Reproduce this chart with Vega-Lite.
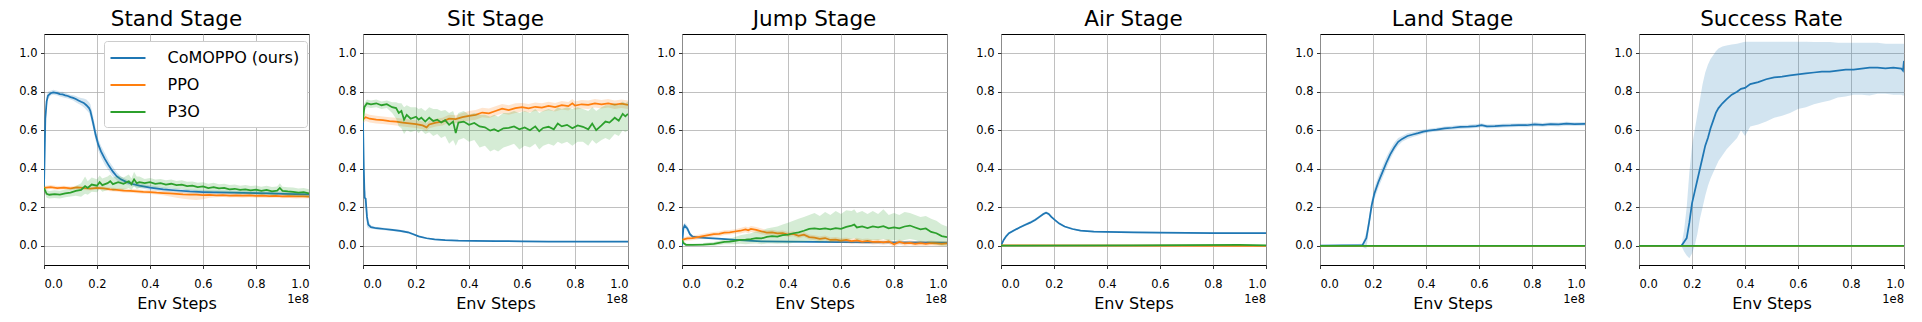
{
"$schema": "https://vega.github.io/schema/vega-lite/v6.json",
"padding": {"left": 18, "top": 9, "right": 5, "bottom": 5},
"datasets": {"d": [
{"p":"Stand Stage","s":"CoMOPPO (ours)","x":0,"y":0.30,"lo":0.28,"hi":0.32},
{"p":"Stand Stage","s":"CoMOPPO (ours)","x":0.5,"y":0.66,"lo":0.62,"hi":0.70},
{"p":"Stand Stage","s":"CoMOPPO (ours)","x":1,"y":0.75,"lo":0.72,"hi":0.78},
{"p":"Stand Stage","s":"CoMOPPO (ours)","x":1.5,"y":0.78,"lo":0.76,"hi":0.80},
{"p":"Stand Stage","s":"CoMOPPO (ours)","x":2.5,"y":0.792,"lo":0.78,"hi":0.805},
{"p":"Stand Stage","s":"CoMOPPO (ours)","x":3.5,"y":0.797,"lo":0.785,"hi":0.81},
{"p":"Stand Stage","s":"CoMOPPO (ours)","x":5,"y":0.793,"lo":0.78,"hi":0.805},
{"p":"Stand Stage","s":"CoMOPPO (ours)","x":6,"y":0.788,"lo":0.775,"hi":0.80},
{"p":"Stand Stage","s":"CoMOPPO (ours)","x":7,"y":0.786,"lo":0.772,"hi":0.80},
{"p":"Stand Stage","s":"CoMOPPO (ours)","x":8,"y":0.781,"lo":0.768,"hi":0.795},
{"p":"Stand Stage","s":"CoMOPPO (ours)","x":9,"y":0.778,"lo":0.765,"hi":0.79},
{"p":"Stand Stage","s":"CoMOPPO (ours)","x":10,"y":0.772,"lo":0.76,"hi":0.785},
{"p":"Stand Stage","s":"CoMOPPO (ours)","x":11,"y":0.768,"lo":0.754,"hi":0.782},
{"p":"Stand Stage","s":"CoMOPPO (ours)","x":12,"y":0.762,"lo":0.745,"hi":0.778},
{"p":"Stand Stage","s":"CoMOPPO (ours)","x":13,"y":0.755,"lo":0.738,"hi":0.772},
{"p":"Stand Stage","s":"CoMOPPO (ours)","x":14,"y":0.748,"lo":0.73,"hi":0.768},
{"p":"Stand Stage","s":"CoMOPPO (ours)","x":15,"y":0.742,"lo":0.72,"hi":0.765},
{"p":"Stand Stage","s":"CoMOPPO (ours)","x":16,"y":0.73,"lo":0.705,"hi":0.76},
{"p":"Stand Stage","s":"CoMOPPO (ours)","x":17,"y":0.715,"lo":0.69,"hi":0.745},
{"p":"Stand Stage","s":"CoMOPPO (ours)","x":17.5,"y":0.70,"lo":0.67,"hi":0.735},
{"p":"Stand Stage","s":"CoMOPPO (ours)","x":18.5,"y":0.64,"lo":0.61,"hi":0.675},
{"p":"Stand Stage","s":"CoMOPPO (ours)","x":19.5,"y":0.575,"lo":0.545,"hi":0.61},
{"p":"Stand Stage","s":"CoMOPPO (ours)","x":20.5,"y":0.525,"lo":0.495,"hi":0.555},
{"p":"Stand Stage","s":"CoMOPPO (ours)","x":21.5,"y":0.49,"lo":0.46,"hi":0.52},
{"p":"Stand Stage","s":"CoMOPPO (ours)","x":23,"y":0.45,"lo":0.42,"hi":0.48},
{"p":"Stand Stage","s":"CoMOPPO (ours)","x":24.5,"y":0.415,"lo":0.39,"hi":0.44},
{"p":"Stand Stage","s":"CoMOPPO (ours)","x":26,"y":0.385,"lo":0.36,"hi":0.41},
{"p":"Stand Stage","s":"CoMOPPO (ours)","x":27.5,"y":0.36,"lo":0.34,"hi":0.38},
{"p":"Stand Stage","s":"CoMOPPO (ours)","x":29,"y":0.345,"lo":0.33,"hi":0.36},
{"p":"Stand Stage","s":"CoMOPPO (ours)","x":31,"y":0.332,"lo":0.32,"hi":0.345},
{"p":"Stand Stage","s":"CoMOPPO (ours)","x":33,"y":0.322,"lo":0.31,"hi":0.335},
{"p":"Stand Stage","s":"CoMOPPO (ours)","x":36,"y":0.312,"lo":0.30,"hi":0.324},
{"p":"Stand Stage","s":"CoMOPPO (ours)","x":40,"y":0.302,"lo":0.29,"hi":0.314},
{"p":"Stand Stage","s":"CoMOPPO (ours)","x":45,"y":0.293,"lo":0.282,"hi":0.304},
{"p":"Stand Stage","s":"CoMOPPO (ours)","x":50,"y":0.287,"lo":0.276,"hi":0.298},
{"p":"Stand Stage","s":"CoMOPPO (ours)","x":55,"y":0.282,"lo":0.272,"hi":0.292},
{"p":"Stand Stage","s":"CoMOPPO (ours)","x":60,"y":0.279,"lo":0.269,"hi":0.289},
{"p":"Stand Stage","s":"CoMOPPO (ours)","x":65,"y":0.277,"lo":0.267,"hi":0.287},
{"p":"Stand Stage","s":"CoMOPPO (ours)","x":70,"y":0.276,"lo":0.266,"hi":0.286},
{"p":"Stand Stage","s":"CoMOPPO (ours)","x":75,"y":0.275,"lo":0.265,"hi":0.285},
{"p":"Stand Stage","s":"CoMOPPO (ours)","x":80,"y":0.273,"lo":0.263,"hi":0.283},
{"p":"Stand Stage","s":"CoMOPPO (ours)","x":85,"y":0.272,"lo":0.262,"hi":0.282},
{"p":"Stand Stage","s":"CoMOPPO (ours)","x":90,"y":0.27,"lo":0.26,"hi":0.28},
{"p":"Stand Stage","s":"CoMOPPO (ours)","x":95,"y":0.268,"lo":0.258,"hi":0.278},
{"p":"Stand Stage","s":"CoMOPPO (ours)","x":100,"y":0.267,"lo":0.257,"hi":0.277},
{"p":"Stand Stage","s":"PPO","x":0,"y":0.30,"lo":0.29,"hi":0.31},
{"p":"Stand Stage","s":"PPO","x":2.5,"y":0.305,"lo":0.295,"hi":0.315},
{"p":"Stand Stage","s":"PPO","x":5,"y":0.30,"lo":0.29,"hi":0.31},
{"p":"Stand Stage","s":"PPO","x":7.5,"y":0.302,"lo":0.292,"hi":0.312},
{"p":"Stand Stage","s":"PPO","x":10,"y":0.298,"lo":0.288,"hi":0.308},
{"p":"Stand Stage","s":"PPO","x":12.5,"y":0.303,"lo":0.293,"hi":0.313},
{"p":"Stand Stage","s":"PPO","x":15,"y":0.30,"lo":0.29,"hi":0.31},
{"p":"Stand Stage","s":"PPO","x":17.5,"y":0.297,"lo":0.287,"hi":0.307},
{"p":"Stand Stage","s":"PPO","x":20,"y":0.301,"lo":0.291,"hi":0.311},
{"p":"Stand Stage","s":"PPO","x":22.5,"y":0.298,"lo":0.288,"hi":0.308},
{"p":"Stand Stage","s":"PPO","x":25,"y":0.293,"lo":0.283,"hi":0.303},
{"p":"Stand Stage","s":"PPO","x":27.5,"y":0.29,"lo":0.28,"hi":0.30},
{"p":"Stand Stage","s":"PPO","x":30,"y":0.287,"lo":0.277,"hi":0.297},
{"p":"Stand Stage","s":"PPO","x":32.5,"y":0.285,"lo":0.275,"hi":0.295},
{"p":"Stand Stage","s":"PPO","x":35,"y":0.283,"lo":0.273,"hi":0.293},
{"p":"Stand Stage","s":"PPO","x":37.5,"y":0.28,"lo":0.27,"hi":0.29},
{"p":"Stand Stage","s":"PPO","x":40,"y":0.279,"lo":0.269,"hi":0.289},
{"p":"Stand Stage","s":"PPO","x":42.5,"y":0.276,"lo":0.266,"hi":0.286},
{"p":"Stand Stage","s":"PPO","x":45,"y":0.274,"lo":0.262,"hi":0.284},
{"p":"Stand Stage","s":"PPO","x":47.5,"y":0.272,"lo":0.256,"hi":0.282},
{"p":"Stand Stage","s":"PPO","x":50,"y":0.27,"lo":0.25,"hi":0.28},
{"p":"Stand Stage","s":"PPO","x":52.5,"y":0.267,"lo":0.244,"hi":0.278},
{"p":"Stand Stage","s":"PPO","x":55,"y":0.266,"lo":0.24,"hi":0.277},
{"p":"Stand Stage","s":"PPO","x":57.5,"y":0.265,"lo":0.238,"hi":0.276},
{"p":"Stand Stage","s":"PPO","x":60,"y":0.263,"lo":0.242,"hi":0.274},
{"p":"Stand Stage","s":"PPO","x":62.5,"y":0.264,"lo":0.25,"hi":0.274},
{"p":"Stand Stage","s":"PPO","x":65,"y":0.262,"lo":0.252,"hi":0.272},
{"p":"Stand Stage","s":"PPO","x":67.5,"y":0.263,"lo":0.253,"hi":0.273},
{"p":"Stand Stage","s":"PPO","x":70,"y":0.261,"lo":0.251,"hi":0.271},
{"p":"Stand Stage","s":"PPO","x":72.5,"y":0.262,"lo":0.252,"hi":0.272},
{"p":"Stand Stage","s":"PPO","x":75,"y":0.26,"lo":0.25,"hi":0.27},
{"p":"Stand Stage","s":"PPO","x":77.5,"y":0.262,"lo":0.252,"hi":0.272},
{"p":"Stand Stage","s":"PPO","x":80,"y":0.259,"lo":0.249,"hi":0.269},
{"p":"Stand Stage","s":"PPO","x":82.5,"y":0.26,"lo":0.25,"hi":0.27},
{"p":"Stand Stage","s":"PPO","x":85,"y":0.258,"lo":0.248,"hi":0.268},
{"p":"Stand Stage","s":"PPO","x":87.5,"y":0.259,"lo":0.249,"hi":0.269},
{"p":"Stand Stage","s":"PPO","x":90,"y":0.257,"lo":0.247,"hi":0.267},
{"p":"Stand Stage","s":"PPO","x":92.5,"y":0.258,"lo":0.248,"hi":0.268},
{"p":"Stand Stage","s":"PPO","x":95,"y":0.256,"lo":0.246,"hi":0.266},
{"p":"Stand Stage","s":"PPO","x":97.5,"y":0.257,"lo":0.247,"hi":0.267},
{"p":"Stand Stage","s":"PPO","x":100,"y":0.255,"lo":0.245,"hi":0.265},
{"p":"Stand Stage","s":"P3O","x":0,"y":0.30,"lo":0.28,"hi":0.32},
{"p":"Stand Stage","s":"P3O","x":1,"y":0.27,"lo":0.25,"hi":0.29},
{"p":"Stand Stage","s":"P3O","x":2,"y":0.265,"lo":0.245,"hi":0.285},
{"p":"Stand Stage","s":"P3O","x":4,"y":0.268,"lo":0.248,"hi":0.288},
{"p":"Stand Stage","s":"P3O","x":6,"y":0.266,"lo":0.246,"hi":0.286},
{"p":"Stand Stage","s":"P3O","x":8,"y":0.272,"lo":0.252,"hi":0.292},
{"p":"Stand Stage","s":"P3O","x":10,"y":0.276,"lo":0.256,"hi":0.296},
{"p":"Stand Stage","s":"P3O","x":12,"y":0.285,"lo":0.26,"hi":0.31},
{"p":"Stand Stage","s":"P3O","x":14,"y":0.29,"lo":0.255,"hi":0.325},
{"p":"Stand Stage","s":"P3O","x":15.5,"y":0.31,"lo":0.27,"hi":0.36},
{"p":"Stand Stage","s":"P3O","x":16.5,"y":0.30,"lo":0.265,"hi":0.335},
{"p":"Stand Stage","s":"P3O","x":18,"y":0.318,"lo":0.28,"hi":0.355},
{"p":"Stand Stage","s":"P3O","x":20,"y":0.312,"lo":0.278,"hi":0.346},
{"p":"Stand Stage","s":"P3O","x":21,"y":0.33,"lo":0.295,"hi":0.365},
{"p":"Stand Stage","s":"P3O","x":22,"y":0.315,"lo":0.28,"hi":0.35},
{"p":"Stand Stage","s":"P3O","x":24,"y":0.325,"lo":0.29,"hi":0.36},
{"p":"Stand Stage","s":"P3O","x":25,"y":0.335,"lo":0.3,"hi":0.37},
{"p":"Stand Stage","s":"P3O","x":26,"y":0.32,"lo":0.285,"hi":0.355},
{"p":"Stand Stage","s":"P3O","x":28,"y":0.33,"lo":0.295,"hi":0.365},
{"p":"Stand Stage","s":"P3O","x":30,"y":0.322,"lo":0.29,"hi":0.355},
{"p":"Stand Stage","s":"P3O","x":32,"y":0.335,"lo":0.3,"hi":0.37},
{"p":"Stand Stage","s":"P3O","x":33,"y":0.32,"lo":0.29,"hi":0.35},
{"p":"Stand Stage","s":"P3O","x":34,"y":0.345,"lo":0.31,"hi":0.385},
{"p":"Stand Stage","s":"P3O","x":35,"y":0.325,"lo":0.295,"hi":0.36},
{"p":"Stand Stage","s":"P3O","x":36,"y":0.33,"lo":0.3,"hi":0.36},
{"p":"Stand Stage","s":"P3O","x":38,"y":0.325,"lo":0.303,"hi":0.347},
{"p":"Stand Stage","s":"P3O","x":40,"y":0.33,"lo":0.308,"hi":0.352},
{"p":"Stand Stage","s":"P3O","x":42,"y":0.322,"lo":0.3,"hi":0.344},
{"p":"Stand Stage","s":"P3O","x":44,"y":0.325,"lo":0.303,"hi":0.347},
{"p":"Stand Stage","s":"P3O","x":46,"y":0.318,"lo":0.296,"hi":0.34},
{"p":"Stand Stage","s":"P3O","x":48,"y":0.322,"lo":0.3,"hi":0.344},
{"p":"Stand Stage","s":"P3O","x":50,"y":0.315,"lo":0.293,"hi":0.337},
{"p":"Stand Stage","s":"P3O","x":52,"y":0.318,"lo":0.296,"hi":0.34},
{"p":"Stand Stage","s":"P3O","x":54,"y":0.31,"lo":0.288,"hi":0.332},
{"p":"Stand Stage","s":"P3O","x":56,"y":0.312,"lo":0.29,"hi":0.334},
{"p":"Stand Stage","s":"P3O","x":58,"y":0.305,"lo":0.283,"hi":0.327},
{"p":"Stand Stage","s":"P3O","x":60,"y":0.308,"lo":0.286,"hi":0.33},
{"p":"Stand Stage","s":"P3O","x":62,"y":0.30,"lo":0.278,"hi":0.322},
{"p":"Stand Stage","s":"P3O","x":64,"y":0.305,"lo":0.283,"hi":0.327},
{"p":"Stand Stage","s":"P3O","x":66,"y":0.298,"lo":0.276,"hi":0.32},
{"p":"Stand Stage","s":"P3O","x":68,"y":0.30,"lo":0.278,"hi":0.322},
{"p":"Stand Stage","s":"P3O","x":70,"y":0.293,"lo":0.271,"hi":0.315},
{"p":"Stand Stage","s":"P3O","x":72,"y":0.296,"lo":0.274,"hi":0.318},
{"p":"Stand Stage","s":"P3O","x":74,"y":0.29,"lo":0.268,"hi":0.312},
{"p":"Stand Stage","s":"P3O","x":76,"y":0.293,"lo":0.271,"hi":0.315},
{"p":"Stand Stage","s":"P3O","x":78,"y":0.288,"lo":0.266,"hi":0.31},
{"p":"Stand Stage","s":"P3O","x":80,"y":0.291,"lo":0.269,"hi":0.313},
{"p":"Stand Stage","s":"P3O","x":82,"y":0.285,"lo":0.263,"hi":0.307},
{"p":"Stand Stage","s":"P3O","x":84,"y":0.29,"lo":0.268,"hi":0.312},
{"p":"Stand Stage","s":"P3O","x":86,"y":0.283,"lo":0.261,"hi":0.305},
{"p":"Stand Stage","s":"P3O","x":88,"y":0.286,"lo":0.264,"hi":0.308},
{"p":"Stand Stage","s":"P3O","x":89,"y":0.30,"lo":0.275,"hi":0.325},
{"p":"Stand Stage","s":"P3O","x":90,"y":0.285,"lo":0.263,"hi":0.307},
{"p":"Stand Stage","s":"P3O","x":92,"y":0.282,"lo":0.26,"hi":0.304},
{"p":"Stand Stage","s":"P3O","x":94,"y":0.28,"lo":0.258,"hi":0.302},
{"p":"Stand Stage","s":"P3O","x":96,"y":0.276,"lo":0.254,"hi":0.298},
{"p":"Stand Stage","s":"P3O","x":98,"y":0.278,"lo":0.256,"hi":0.3},
{"p":"Stand Stage","s":"P3O","x":100,"y":0.272,"lo":0.25,"hi":0.294},
{"p":"Sit Stage","s":"CoMOPPO (ours)","x":0,"y":0.65,"lo":0.6,"hi":0.7},
{"p":"Sit Stage","s":"CoMOPPO (ours)","x":0.3,"y":0.4,"lo":0.3,"hi":0.5},
{"p":"Sit Stage","s":"CoMOPPO (ours)","x":0.6,"y":0.25,"lo":0.2,"hi":0.3},
{"p":"Sit Stage","s":"CoMOPPO (ours)","x":1,"y":0.245,"lo":0.2,"hi":0.28},
{"p":"Sit Stage","s":"CoMOPPO (ours)","x":1.5,"y":0.15,"lo":0.1,"hi":0.2},
{"p":"Sit Stage","s":"CoMOPPO (ours)","x":2,"y":0.11,"lo":0.09,"hi":0.13},
{"p":"Sit Stage","s":"CoMOPPO (ours)","x":3,"y":0.097,"lo":0.09,"hi":0.105},
{"p":"Sit Stage","s":"CoMOPPO (ours)","x":5,"y":0.091,"lo":0.085,"hi":0.097},
{"p":"Sit Stage","s":"CoMOPPO (ours)","x":8,"y":0.087,"lo":0.081,"hi":0.093},
{"p":"Sit Stage","s":"CoMOPPO (ours)","x":11,"y":0.082,"lo":0.076,"hi":0.088},
{"p":"Sit Stage","s":"CoMOPPO (ours)","x":14,"y":0.077,"lo":0.071,"hi":0.083},
{"p":"Sit Stage","s":"CoMOPPO (ours)","x":17,"y":0.07,"lo":0.064,"hi":0.076},
{"p":"Sit Stage","s":"CoMOPPO (ours)","x":19,"y":0.06,"lo":0.055,"hi":0.065},
{"p":"Sit Stage","s":"CoMOPPO (ours)","x":21,"y":0.049,"lo":0.045,"hi":0.053},
{"p":"Sit Stage","s":"CoMOPPO (ours)","x":24,"y":0.039,"lo":0.035,"hi":0.043},
{"p":"Sit Stage","s":"CoMOPPO (ours)","x":27,"y":0.033,"lo":0.03,"hi":0.036},
{"p":"Sit Stage","s":"CoMOPPO (ours)","x":31,"y":0.029,"lo":0.026,"hi":0.032},
{"p":"Sit Stage","s":"CoMOPPO (ours)","x":36,"y":0.026,"lo":0.023,"hi":0.029},
{"p":"Sit Stage","s":"CoMOPPO (ours)","x":42,"y":0.025,"lo":0.022,"hi":0.028},
{"p":"Sit Stage","s":"CoMOPPO (ours)","x":50,"y":0.024,"lo":0.021,"hi":0.027},
{"p":"Sit Stage","s":"CoMOPPO (ours)","x":60,"y":0.023,"lo":0.02,"hi":0.026},
{"p":"Sit Stage","s":"CoMOPPO (ours)","x":70,"y":0.022,"lo":0.019,"hi":0.025},
{"p":"Sit Stage","s":"CoMOPPO (ours)","x":80,"y":0.022,"lo":0.019,"hi":0.025},
{"p":"Sit Stage","s":"CoMOPPO (ours)","x":90,"y":0.021,"lo":0.018,"hi":0.024},
{"p":"Sit Stage","s":"CoMOPPO (ours)","x":100,"y":0.021,"lo":0.018,"hi":0.024},
{"p":"Sit Stage","s":"PPO","x":0,"y":0.655,"lo":0.635,"hi":0.675},
{"p":"Sit Stage","s":"PPO","x":1,"y":0.668,"lo":0.648,"hi":0.688},
{"p":"Sit Stage","s":"PPO","x":2.5,"y":0.66,"lo":0.64,"hi":0.68},
{"p":"Sit Stage","s":"PPO","x":5,"y":0.655,"lo":0.635,"hi":0.675},
{"p":"Sit Stage","s":"PPO","x":7.5,"y":0.652,"lo":0.632,"hi":0.672},
{"p":"Sit Stage","s":"PPO","x":10,"y":0.648,"lo":0.628,"hi":0.668},
{"p":"Sit Stage","s":"PPO","x":12.5,"y":0.645,"lo":0.625,"hi":0.665},
{"p":"Sit Stage","s":"PPO","x":15,"y":0.64,"lo":0.62,"hi":0.66},
{"p":"Sit Stage","s":"PPO","x":17.5,"y":0.636,"lo":0.616,"hi":0.656},
{"p":"Sit Stage","s":"PPO","x":20,"y":0.632,"lo":0.612,"hi":0.652},
{"p":"Sit Stage","s":"PPO","x":22.5,"y":0.625,"lo":0.605,"hi":0.645},
{"p":"Sit Stage","s":"PPO","x":24,"y":0.615,"lo":0.595,"hi":0.635},
{"p":"Sit Stage","s":"PPO","x":25,"y":0.63,"lo":0.61,"hi":0.65},
{"p":"Sit Stage","s":"PPO","x":27.5,"y":0.64,"lo":0.62,"hi":0.66},
{"p":"Sit Stage","s":"PPO","x":30,"y":0.645,"lo":0.625,"hi":0.665},
{"p":"Sit Stage","s":"PPO","x":32.5,"y":0.66,"lo":0.64,"hi":0.68},
{"p":"Sit Stage","s":"PPO","x":35,"y":0.658,"lo":0.638,"hi":0.678},
{"p":"Sit Stage","s":"PPO","x":37.5,"y":0.668,"lo":0.645,"hi":0.69},
{"p":"Sit Stage","s":"PPO","x":40,"y":0.675,"lo":0.65,"hi":0.7},
{"p":"Sit Stage","s":"PPO","x":42.5,"y":0.68,"lo":0.655,"hi":0.705},
{"p":"Sit Stage","s":"PPO","x":45,"y":0.692,"lo":0.667,"hi":0.717},
{"p":"Sit Stage","s":"PPO","x":47.5,"y":0.688,"lo":0.663,"hi":0.713},
{"p":"Sit Stage","s":"PPO","x":50,"y":0.70,"lo":0.675,"hi":0.725},
{"p":"Sit Stage","s":"PPO","x":52.5,"y":0.712,"lo":0.687,"hi":0.737},
{"p":"Sit Stage","s":"PPO","x":55,"y":0.705,"lo":0.68,"hi":0.73},
{"p":"Sit Stage","s":"PPO","x":57.5,"y":0.715,"lo":0.69,"hi":0.74},
{"p":"Sit Stage","s":"PPO","x":60,"y":0.72,"lo":0.698,"hi":0.742},
{"p":"Sit Stage","s":"PPO","x":62.5,"y":0.714,"lo":0.692,"hi":0.736},
{"p":"Sit Stage","s":"PPO","x":65,"y":0.722,"lo":0.7,"hi":0.744},
{"p":"Sit Stage","s":"PPO","x":67.5,"y":0.718,"lo":0.696,"hi":0.74},
{"p":"Sit Stage","s":"PPO","x":70,"y":0.726,"lo":0.704,"hi":0.748},
{"p":"Sit Stage","s":"PPO","x":72.5,"y":0.72,"lo":0.698,"hi":0.742},
{"p":"Sit Stage","s":"PPO","x":75,"y":0.73,"lo":0.708,"hi":0.752},
{"p":"Sit Stage","s":"PPO","x":77.5,"y":0.725,"lo":0.703,"hi":0.747},
{"p":"Sit Stage","s":"PPO","x":79,"y":0.74,"lo":0.718,"hi":0.762},
{"p":"Sit Stage","s":"PPO","x":80,"y":0.728,"lo":0.706,"hi":0.75},
{"p":"Sit Stage","s":"PPO","x":82.5,"y":0.735,"lo":0.713,"hi":0.757},
{"p":"Sit Stage","s":"PPO","x":85,"y":0.732,"lo":0.71,"hi":0.754},
{"p":"Sit Stage","s":"PPO","x":87.5,"y":0.74,"lo":0.718,"hi":0.762},
{"p":"Sit Stage","s":"PPO","x":90,"y":0.735,"lo":0.713,"hi":0.757},
{"p":"Sit Stage","s":"PPO","x":92.5,"y":0.74,"lo":0.718,"hi":0.762},
{"p":"Sit Stage","s":"PPO","x":95,"y":0.733,"lo":0.711,"hi":0.755},
{"p":"Sit Stage","s":"PPO","x":97.5,"y":0.738,"lo":0.716,"hi":0.76},
{"p":"Sit Stage","s":"PPO","x":100,"y":0.732,"lo":0.71,"hi":0.754},
{"p":"Sit Stage","s":"P3O","x":0,"y":0.65,"lo":0.63,"hi":0.67},
{"p":"Sit Stage","s":"P3O","x":0.5,"y":0.72,"lo":0.7,"hi":0.74},
{"p":"Sit Stage","s":"P3O","x":1.5,"y":0.74,"lo":0.72,"hi":0.76},
{"p":"Sit Stage","s":"P3O","x":3,"y":0.735,"lo":0.715,"hi":0.755},
{"p":"Sit Stage","s":"P3O","x":5,"y":0.74,"lo":0.72,"hi":0.76},
{"p":"Sit Stage","s":"P3O","x":7,"y":0.73,"lo":0.71,"hi":0.75},
{"p":"Sit Stage","s":"P3O","x":9,"y":0.735,"lo":0.715,"hi":0.755},
{"p":"Sit Stage","s":"P3O","x":11,"y":0.72,"lo":0.69,"hi":0.745},
{"p":"Sit Stage","s":"P3O","x":12.5,"y":0.715,"lo":0.66,"hi":0.745},
{"p":"Sit Stage","s":"P3O","x":13.5,"y":0.69,"lo":0.62,"hi":0.74},
{"p":"Sit Stage","s":"P3O","x":14.5,"y":0.70,"lo":0.61,"hi":0.74},
{"p":"Sit Stage","s":"P3O","x":15.5,"y":0.655,"lo":0.58,"hi":0.72},
{"p":"Sit Stage","s":"P3O","x":16.5,"y":0.68,"lo":0.6,"hi":0.73},
{"p":"Sit Stage","s":"P3O","x":18,"y":0.66,"lo":0.59,"hi":0.72},
{"p":"Sit Stage","s":"P3O","x":20,"y":0.67,"lo":0.6,"hi":0.72},
{"p":"Sit Stage","s":"P3O","x":21,"y":0.655,"lo":0.585,"hi":0.71},
{"p":"Sit Stage","s":"P3O","x":22,"y":0.665,"lo":0.6,"hi":0.715},
{"p":"Sit Stage","s":"P3O","x":23.5,"y":0.645,"lo":0.58,"hi":0.7},
{"p":"Sit Stage","s":"P3O","x":25,"y":0.665,"lo":0.59,"hi":0.72},
{"p":"Sit Stage","s":"P3O","x":26.5,"y":0.648,"lo":0.57,"hi":0.71},
{"p":"Sit Stage","s":"P3O","x":28,"y":0.655,"lo":0.58,"hi":0.71},
{"p":"Sit Stage","s":"P3O","x":29.5,"y":0.64,"lo":0.56,"hi":0.7},
{"p":"Sit Stage","s":"P3O","x":31,"y":0.652,"lo":0.57,"hi":0.705},
{"p":"Sit Stage","s":"P3O","x":32.5,"y":0.628,"lo":0.53,"hi":0.69},
{"p":"Sit Stage","s":"P3O","x":34,"y":0.645,"lo":0.55,"hi":0.7},
{"p":"Sit Stage","s":"P3O","x":35,"y":0.585,"lo":0.52,"hi":0.66},
{"p":"Sit Stage","s":"P3O","x":36,"y":0.64,"lo":0.55,"hi":0.69},
{"p":"Sit Stage","s":"P3O","x":38,"y":0.645,"lo":0.56,"hi":0.7},
{"p":"Sit Stage","s":"P3O","x":40,"y":0.628,"lo":0.54,"hi":0.68},
{"p":"Sit Stage","s":"P3O","x":42,"y":0.638,"lo":0.55,"hi":0.69},
{"p":"Sit Stage","s":"P3O","x":44,"y":0.62,"lo":0.51,"hi":0.68},
{"p":"Sit Stage","s":"P3O","x":46,"y":0.615,"lo":0.52,"hi":0.68},
{"p":"Sit Stage","s":"P3O","x":48,"y":0.598,"lo":0.49,"hi":0.67},
{"p":"Sit Stage","s":"P3O","x":49.5,"y":0.605,"lo":0.5,"hi":0.68},
{"p":"Sit Stage","s":"P3O","x":51,"y":0.595,"lo":0.49,"hi":0.67},
{"p":"Sit Stage","s":"P3O","x":53,"y":0.61,"lo":0.51,"hi":0.69},
{"p":"Sit Stage","s":"P3O","x":55,"y":0.612,"lo":0.52,"hi":0.69},
{"p":"Sit Stage","s":"P3O","x":57,"y":0.62,"lo":0.53,"hi":0.7},
{"p":"Sit Stage","s":"P3O","x":59,"y":0.605,"lo":0.5,"hi":0.69},
{"p":"Sit Stage","s":"P3O","x":61,"y":0.615,"lo":0.52,"hi":0.7},
{"p":"Sit Stage","s":"P3O","x":63,"y":0.60,"lo":0.51,"hi":0.69},
{"p":"Sit Stage","s":"P3O","x":65,"y":0.62,"lo":0.53,"hi":0.71},
{"p":"Sit Stage","s":"P3O","x":66.5,"y":0.595,"lo":0.5,"hi":0.69},
{"p":"Sit Stage","s":"P3O","x":68,"y":0.612,"lo":0.52,"hi":0.7},
{"p":"Sit Stage","s":"P3O","x":70,"y":0.618,"lo":0.53,"hi":0.71},
{"p":"Sit Stage","s":"P3O","x":72,"y":0.605,"lo":0.52,"hi":0.7},
{"p":"Sit Stage","s":"P3O","x":73.5,"y":0.635,"lo":0.54,"hi":0.72},
{"p":"Sit Stage","s":"P3O","x":75,"y":0.62,"lo":0.53,"hi":0.71},
{"p":"Sit Stage","s":"P3O","x":77,"y":0.628,"lo":0.54,"hi":0.72},
{"p":"Sit Stage","s":"P3O","x":79,"y":0.61,"lo":0.52,"hi":0.71},
{"p":"Sit Stage","s":"P3O","x":81,"y":0.625,"lo":0.54,"hi":0.72},
{"p":"Sit Stage","s":"P3O","x":83,"y":0.618,"lo":0.54,"hi":0.71},
{"p":"Sit Stage","s":"P3O","x":85,"y":0.605,"lo":0.52,"hi":0.7},
{"p":"Sit Stage","s":"P3O","x":86.5,"y":0.635,"lo":0.55,"hi":0.72},
{"p":"Sit Stage","s":"P3O","x":88,"y":0.60,"lo":0.53,"hi":0.7},
{"p":"Sit Stage","s":"P3O","x":90,"y":0.625,"lo":0.55,"hi":0.72},
{"p":"Sit Stage","s":"P3O","x":91.5,"y":0.645,"lo":0.56,"hi":0.73},
{"p":"Sit Stage","s":"P3O","x":93,"y":0.64,"lo":0.55,"hi":0.73},
{"p":"Sit Stage","s":"P3O","x":95,"y":0.665,"lo":0.58,"hi":0.74},
{"p":"Sit Stage","s":"P3O","x":96.5,"y":0.65,"lo":0.57,"hi":0.73},
{"p":"Sit Stage","s":"P3O","x":98,"y":0.685,"lo":0.6,"hi":0.75},
{"p":"Sit Stage","s":"P3O","x":99,"y":0.672,"lo":0.59,"hi":0.74},
{"p":"Sit Stage","s":"P3O","x":100,"y":0.685,"lo":0.6,"hi":0.75},
{"p":"Jump Stage","s":"CoMOPPO (ours)","x":0,"y":0.0,"lo":0.0,"hi":0.01},
{"p":"Jump Stage","s":"CoMOPPO (ours)","x":0.5,"y":0.09,"lo":0.07,"hi":0.11},
{"p":"Jump Stage","s":"CoMOPPO (ours)","x":1,"y":0.105,"lo":0.09,"hi":0.12},
{"p":"Jump Stage","s":"CoMOPPO (ours)","x":2,"y":0.09,"lo":0.075,"hi":0.105},
{"p":"Jump Stage","s":"CoMOPPO (ours)","x":3,"y":0.06,"lo":0.05,"hi":0.07},
{"p":"Jump Stage","s":"CoMOPPO (ours)","x":4,"y":0.047,"lo":0.04,"hi":0.055},
{"p":"Jump Stage","s":"CoMOPPO (ours)","x":6,"y":0.043,"lo":0.038,"hi":0.048},
{"p":"Jump Stage","s":"CoMOPPO (ours)","x":10,"y":0.04,"lo":0.036,"hi":0.044},
{"p":"Jump Stage","s":"CoMOPPO (ours)","x":15,"y":0.036,"lo":0.032,"hi":0.04},
{"p":"Jump Stage","s":"CoMOPPO (ours)","x":20,"y":0.031,"lo":0.027,"hi":0.035},
{"p":"Jump Stage","s":"CoMOPPO (ours)","x":25,"y":0.026,"lo":0.023,"hi":0.029},
{"p":"Jump Stage","s":"CoMOPPO (ours)","x":30,"y":0.023,"lo":0.02,"hi":0.026},
{"p":"Jump Stage","s":"CoMOPPO (ours)","x":40,"y":0.021,"lo":0.018,"hi":0.024},
{"p":"Jump Stage","s":"CoMOPPO (ours)","x":50,"y":0.02,"lo":0.017,"hi":0.023},
{"p":"Jump Stage","s":"CoMOPPO (ours)","x":60,"y":0.019,"lo":0.016,"hi":0.022},
{"p":"Jump Stage","s":"CoMOPPO (ours)","x":70,"y":0.018,"lo":0.015,"hi":0.021},
{"p":"Jump Stage","s":"CoMOPPO (ours)","x":80,"y":0.018,"lo":0.015,"hi":0.021},
{"p":"Jump Stage","s":"CoMOPPO (ours)","x":90,"y":0.017,"lo":0.014,"hi":0.02},
{"p":"Jump Stage","s":"CoMOPPO (ours)","x":100,"y":0.016,"lo":0.013,"hi":0.019},
{"p":"Jump Stage","s":"PPO","x":0,"y":0.03,"lo":0.018,"hi":0.042},
{"p":"Jump Stage","s":"PPO","x":2,"y":0.038,"lo":0.026,"hi":0.05},
{"p":"Jump Stage","s":"PPO","x":4,"y":0.04,"lo":0.028,"hi":0.052},
{"p":"Jump Stage","s":"PPO","x":6,"y":0.045,"lo":0.033,"hi":0.057},
{"p":"Jump Stage","s":"PPO","x":8,"y":0.05,"lo":0.038,"hi":0.062},
{"p":"Jump Stage","s":"PPO","x":10,"y":0.055,"lo":0.043,"hi":0.067},
{"p":"Jump Stage","s":"PPO","x":12,"y":0.06,"lo":0.048,"hi":0.072},
{"p":"Jump Stage","s":"PPO","x":14,"y":0.062,"lo":0.05,"hi":0.074},
{"p":"Jump Stage","s":"PPO","x":16,"y":0.068,"lo":0.056,"hi":0.08},
{"p":"Jump Stage","s":"PPO","x":18,"y":0.07,"lo":0.058,"hi":0.082},
{"p":"Jump Stage","s":"PPO","x":20,"y":0.074,"lo":0.062,"hi":0.086},
{"p":"Jump Stage","s":"PPO","x":22,"y":0.078,"lo":0.064,"hi":0.092},
{"p":"Jump Stage","s":"PPO","x":24,"y":0.085,"lo":0.07,"hi":0.1},
{"p":"Jump Stage","s":"PPO","x":25,"y":0.08,"lo":0.065,"hi":0.095},
{"p":"Jump Stage","s":"PPO","x":26,"y":0.087,"lo":0.072,"hi":0.102},
{"p":"Jump Stage","s":"PPO","x":28,"y":0.082,"lo":0.067,"hi":0.097},
{"p":"Jump Stage","s":"PPO","x":30,"y":0.075,"lo":0.06,"hi":0.09},
{"p":"Jump Stage","s":"PPO","x":32,"y":0.068,"lo":0.055,"hi":0.081},
{"p":"Jump Stage","s":"PPO","x":34,"y":0.07,"lo":0.057,"hi":0.083},
{"p":"Jump Stage","s":"PPO","x":36,"y":0.064,"lo":0.051,"hi":0.077},
{"p":"Jump Stage","s":"PPO","x":38,"y":0.066,"lo":0.053,"hi":0.079},
{"p":"Jump Stage","s":"PPO","x":40,"y":0.058,"lo":0.045,"hi":0.071},
{"p":"Jump Stage","s":"PPO","x":42,"y":0.062,"lo":0.049,"hi":0.075},
{"p":"Jump Stage","s":"PPO","x":44,"y":0.052,"lo":0.039,"hi":0.065},
{"p":"Jump Stage","s":"PPO","x":46,"y":0.058,"lo":0.045,"hi":0.071},
{"p":"Jump Stage","s":"PPO","x":48,"y":0.045,"lo":0.032,"hi":0.058},
{"p":"Jump Stage","s":"PPO","x":50,"y":0.042,"lo":0.029,"hi":0.055},
{"p":"Jump Stage","s":"PPO","x":52,"y":0.036,"lo":0.023,"hi":0.049},
{"p":"Jump Stage","s":"PPO","x":54,"y":0.04,"lo":0.027,"hi":0.053},
{"p":"Jump Stage","s":"PPO","x":56,"y":0.03,"lo":0.017,"hi":0.043},
{"p":"Jump Stage","s":"PPO","x":58,"y":0.032,"lo":0.019,"hi":0.045},
{"p":"Jump Stage","s":"PPO","x":60,"y":0.027,"lo":0.014,"hi":0.04},
{"p":"Jump Stage","s":"PPO","x":62,"y":0.03,"lo":0.017,"hi":0.043},
{"p":"Jump Stage","s":"PPO","x":64,"y":0.024,"lo":0.011,"hi":0.037},
{"p":"Jump Stage","s":"PPO","x":66,"y":0.028,"lo":0.015,"hi":0.041},
{"p":"Jump Stage","s":"PPO","x":68,"y":0.022,"lo":0.009,"hi":0.035},
{"p":"Jump Stage","s":"PPO","x":70,"y":0.025,"lo":0.012,"hi":0.038},
{"p":"Jump Stage","s":"PPO","x":72,"y":0.02,"lo":0.007,"hi":0.033},
{"p":"Jump Stage","s":"PPO","x":74,"y":0.022,"lo":0.009,"hi":0.035},
{"p":"Jump Stage","s":"PPO","x":76,"y":0.018,"lo":0.005,"hi":0.031},
{"p":"Jump Stage","s":"PPO","x":78,"y":0.022,"lo":0.009,"hi":0.035},
{"p":"Jump Stage","s":"PPO","x":80,"y":0.008,"lo":-0.005,"hi":0.021},
{"p":"Jump Stage","s":"PPO","x":82,"y":0.02,"lo":0.007,"hi":0.033},
{"p":"Jump Stage","s":"PPO","x":84,"y":0.012,"lo":-0.001,"hi":0.025},
{"p":"Jump Stage","s":"PPO","x":86,"y":0.015,"lo":0.002,"hi":0.028},
{"p":"Jump Stage","s":"PPO","x":88,"y":0.01,"lo":-0.003,"hi":0.023},
{"p":"Jump Stage","s":"PPO","x":90,"y":0.013,"lo":0.0,"hi":0.026},
{"p":"Jump Stage","s":"PPO","x":92,"y":0.01,"lo":-0.003,"hi":0.023},
{"p":"Jump Stage","s":"PPO","x":94,"y":0.014,"lo":0.001,"hi":0.027},
{"p":"Jump Stage","s":"PPO","x":96,"y":0.012,"lo":-0.001,"hi":0.025},
{"p":"Jump Stage","s":"PPO","x":98,"y":0.01,"lo":-0.003,"hi":0.023},
{"p":"Jump Stage","s":"PPO","x":100,"y":0.012,"lo":-0.001,"hi":0.025},
{"p":"Jump Stage","s":"P3O","x":0,"y":0.03,"lo":0.02,"hi":0.04},
{"p":"Jump Stage","s":"P3O","x":0.5,"y":0.015,"lo":0.005,"hi":0.025},
{"p":"Jump Stage","s":"P3O","x":1.5,"y":0.005,"lo":0.0,"hi":0.012},
{"p":"Jump Stage","s":"P3O","x":4,"y":0.004,"lo":0.0,"hi":0.01},
{"p":"Jump Stage","s":"P3O","x":8,"y":0.006,"lo":0.0,"hi":0.014},
{"p":"Jump Stage","s":"P3O","x":12,"y":0.01,"lo":0.0,"hi":0.02},
{"p":"Jump Stage","s":"P3O","x":14,"y":0.015,"lo":0.004,"hi":0.026},
{"p":"Jump Stage","s":"P3O","x":16,"y":0.02,"lo":0.008,"hi":0.032},
{"p":"Jump Stage","s":"P3O","x":18,"y":0.022,"lo":0.008,"hi":0.036},
{"p":"Jump Stage","s":"P3O","x":20,"y":0.025,"lo":0.008,"hi":0.045},
{"p":"Jump Stage","s":"P3O","x":22,"y":0.03,"lo":0.01,"hi":0.055},
{"p":"Jump Stage","s":"P3O","x":24,"y":0.032,"lo":0.008,"hi":0.06},
{"p":"Jump Stage","s":"P3O","x":26,"y":0.035,"lo":0.01,"hi":0.065},
{"p":"Jump Stage","s":"P3O","x":28,"y":0.04,"lo":0.012,"hi":0.075},
{"p":"Jump Stage","s":"P3O","x":30,"y":0.038,"lo":0.008,"hi":0.075},
{"p":"Jump Stage","s":"P3O","x":32,"y":0.046,"lo":0.012,"hi":0.09},
{"p":"Jump Stage","s":"P3O","x":34,"y":0.05,"lo":0.012,"hi":0.095},
{"p":"Jump Stage","s":"P3O","x":36,"y":0.048,"lo":0.01,"hi":0.1},
{"p":"Jump Stage","s":"P3O","x":38,"y":0.055,"lo":0.012,"hi":0.11},
{"p":"Jump Stage","s":"P3O","x":40,"y":0.058,"lo":0.01,"hi":0.12},
{"p":"Jump Stage","s":"P3O","x":42,"y":0.065,"lo":0.015,"hi":0.13},
{"p":"Jump Stage","s":"P3O","x":44,"y":0.07,"lo":0.018,"hi":0.14},
{"p":"Jump Stage","s":"P3O","x":46,"y":0.078,"lo":0.02,"hi":0.15},
{"p":"Jump Stage","s":"P3O","x":48,"y":0.088,"lo":0.025,"hi":0.16},
{"p":"Jump Stage","s":"P3O","x":50,"y":0.09,"lo":0.025,"hi":0.17},
{"p":"Jump Stage","s":"P3O","x":52,"y":0.086,"lo":0.02,"hi":0.155},
{"p":"Jump Stage","s":"P3O","x":54,"y":0.09,"lo":0.025,"hi":0.175},
{"p":"Jump Stage","s":"P3O","x":56,"y":0.085,"lo":0.02,"hi":0.16},
{"p":"Jump Stage","s":"P3O","x":58,"y":0.092,"lo":0.025,"hi":0.18},
{"p":"Jump Stage","s":"P3O","x":60,"y":0.088,"lo":0.02,"hi":0.165},
{"p":"Jump Stage","s":"P3O","x":62,"y":0.098,"lo":0.03,"hi":0.185},
{"p":"Jump Stage","s":"P3O","x":64,"y":0.105,"lo":0.035,"hi":0.18},
{"p":"Jump Stage","s":"P3O","x":65,"y":0.11,"lo":0.04,"hi":0.19},
{"p":"Jump Stage","s":"P3O","x":66,"y":0.095,"lo":0.03,"hi":0.17},
{"p":"Jump Stage","s":"P3O","x":68,"y":0.10,"lo":0.03,"hi":0.18},
{"p":"Jump Stage","s":"P3O","x":70,"y":0.092,"lo":0.025,"hi":0.165},
{"p":"Jump Stage","s":"P3O","x":72,"y":0.10,"lo":0.03,"hi":0.18},
{"p":"Jump Stage","s":"P3O","x":74,"y":0.095,"lo":0.03,"hi":0.165},
{"p":"Jump Stage","s":"P3O","x":76,"y":0.102,"lo":0.035,"hi":0.19},
{"p":"Jump Stage","s":"P3O","x":78,"y":0.09,"lo":0.025,"hi":0.16},
{"p":"Jump Stage","s":"P3O","x":80,"y":0.095,"lo":0.03,"hi":0.17},
{"p":"Jump Stage","s":"P3O","x":82,"y":0.09,"lo":0.025,"hi":0.16},
{"p":"Jump Stage","s":"P3O","x":84,"y":0.10,"lo":0.03,"hi":0.175},
{"p":"Jump Stage","s":"P3O","x":86,"y":0.105,"lo":0.035,"hi":0.17},
{"p":"Jump Stage","s":"P3O","x":88,"y":0.095,"lo":0.03,"hi":0.16},
{"p":"Jump Stage","s":"P3O","x":90,"y":0.085,"lo":0.02,"hi":0.15},
{"p":"Jump Stage","s":"P3O","x":92,"y":0.09,"lo":0.025,"hi":0.155},
{"p":"Jump Stage","s":"P3O","x":94,"y":0.072,"lo":0.01,"hi":0.14},
{"p":"Jump Stage","s":"P3O","x":96,"y":0.065,"lo":0.005,"hi":0.13},
{"p":"Jump Stage","s":"P3O","x":98,"y":0.05,"lo":0.0,"hi":0.11},
{"p":"Jump Stage","s":"P3O","x":100,"y":0.045,"lo":0.0,"hi":0.1},
{"p":"Air Stage","s":"CoMOPPO (ours)","x":0,"y":0.0,"lo":0.0,"hi":0.005},
{"p":"Air Stage","s":"CoMOPPO (ours)","x":1,"y":0.03,"lo":0.025,"hi":0.035},
{"p":"Air Stage","s":"CoMOPPO (ours)","x":2,"y":0.05,"lo":0.045,"hi":0.055},
{"p":"Air Stage","s":"CoMOPPO (ours)","x":3,"y":0.065,"lo":0.06,"hi":0.07},
{"p":"Air Stage","s":"CoMOPPO (ours)","x":5,"y":0.08,"lo":0.075,"hi":0.085},
{"p":"Air Stage","s":"CoMOPPO (ours)","x":7,"y":0.095,"lo":0.09,"hi":0.1},
{"p":"Air Stage","s":"CoMOPPO (ours)","x":9,"y":0.108,"lo":0.102,"hi":0.114},
{"p":"Air Stage","s":"CoMOPPO (ours)","x":11,"y":0.12,"lo":0.113,"hi":0.127},
{"p":"Air Stage","s":"CoMOPPO (ours)","x":13,"y":0.135,"lo":0.128,"hi":0.142},
{"p":"Air Stage","s":"CoMOPPO (ours)","x":14.5,"y":0.15,"lo":0.143,"hi":0.157},
{"p":"Air Stage","s":"CoMOPPO (ours)","x":16,"y":0.165,"lo":0.158,"hi":0.172},
{"p":"Air Stage","s":"CoMOPPO (ours)","x":17,"y":0.172,"lo":0.165,"hi":0.178},
{"p":"Air Stage","s":"CoMOPPO (ours)","x":18,"y":0.165,"lo":0.158,"hi":0.172},
{"p":"Air Stage","s":"CoMOPPO (ours)","x":19,"y":0.15,"lo":0.144,"hi":0.156},
{"p":"Air Stage","s":"CoMOPPO (ours)","x":20.5,"y":0.132,"lo":0.127,"hi":0.137},
{"p":"Air Stage","s":"CoMOPPO (ours)","x":22,"y":0.115,"lo":0.11,"hi":0.12},
{"p":"Air Stage","s":"CoMOPPO (ours)","x":24,"y":0.10,"lo":0.096,"hi":0.104},
{"p":"Air Stage","s":"CoMOPPO (ours)","x":27,"y":0.087,"lo":0.083,"hi":0.091},
{"p":"Air Stage","s":"CoMOPPO (ours)","x":30,"y":0.079,"lo":0.075,"hi":0.083},
{"p":"Air Stage","s":"CoMOPPO (ours)","x":35,"y":0.074,"lo":0.07,"hi":0.078},
{"p":"Air Stage","s":"CoMOPPO (ours)","x":40,"y":0.072,"lo":0.068,"hi":0.076},
{"p":"Air Stage","s":"CoMOPPO (ours)","x":50,"y":0.07,"lo":0.066,"hi":0.074},
{"p":"Air Stage","s":"CoMOPPO (ours)","x":60,"y":0.068,"lo":0.064,"hi":0.072},
{"p":"Air Stage","s":"CoMOPPO (ours)","x":70,"y":0.067,"lo":0.063,"hi":0.071},
{"p":"Air Stage","s":"CoMOPPO (ours)","x":80,"y":0.066,"lo":0.062,"hi":0.07},
{"p":"Air Stage","s":"CoMOPPO (ours)","x":90,"y":0.065,"lo":0.061,"hi":0.069},
{"p":"Air Stage","s":"CoMOPPO (ours)","x":100,"y":0.065,"lo":0.061,"hi":0.069},
{"p":"Air Stage","s":"PPO","x":0,"y":0.002,"lo":0.0,"hi":0.004},
{"p":"Air Stage","s":"PPO","x":50,"y":0.001,"lo":-0.001,"hi":0.003},
{"p":"Air Stage","s":"PPO","x":100,"y":0.0,"lo":-0.002,"hi":0.002},
{"p":"Air Stage","s":"P3O","x":0,"y":0.001,"lo":-0.002,"hi":0.004},
{"p":"Air Stage","s":"P3O","x":50,"y":0.002,"lo":-0.001,"hi":0.005},
{"p":"Air Stage","s":"P3O","x":70,"y":0.003,"lo":0.0,"hi":0.006},
{"p":"Air Stage","s":"P3O","x":90,"y":0.004,"lo":0.001,"hi":0.007},
{"p":"Air Stage","s":"P3O","x":100,"y":0.002,"lo":-0.001,"hi":0.005},
{"p":"Land Stage","s":"CoMOPPO (ours)","x":0,"y":0,"lo":0,"hi":0},
{"p":"Land Stage","s":"CoMOPPO (ours)","x":16,"y":0.003,"lo":0,"hi":0.01},
{"p":"Land Stage","s":"CoMOPPO (ours)","x":16.5,"y":0.015,"lo":-0.01,"hi":0.03},
{"p":"Land Stage","s":"CoMOPPO (ours)","x":17.5,"y":0.04,"lo":-0.015,"hi":0.07},
{"p":"Land Stage","s":"CoMOPPO (ours)","x":18.5,"y":0.12,"lo":0.09,"hi":0.15},
{"p":"Land Stage","s":"CoMOPPO (ours)","x":19.5,"y":0.21,"lo":0.18,"hi":0.24},
{"p":"Land Stage","s":"CoMOPPO (ours)","x":20.5,"y":0.27,"lo":0.24,"hi":0.30},
{"p":"Land Stage","s":"CoMOPPO (ours)","x":22,"y":0.33,"lo":0.30,"hi":0.36},
{"p":"Land Stage","s":"CoMOPPO (ours)","x":23.5,"y":0.38,"lo":0.35,"hi":0.41},
{"p":"Land Stage","s":"CoMOPPO (ours)","x":25,"y":0.43,"lo":0.40,"hi":0.46},
{"p":"Land Stage","s":"CoMOPPO (ours)","x":26.5,"y":0.475,"lo":0.45,"hi":0.50},
{"p":"Land Stage","s":"CoMOPPO (ours)","x":28,"y":0.51,"lo":0.49,"hi":0.535},
{"p":"Land Stage","s":"CoMOPPO (ours)","x":29.5,"y":0.54,"lo":0.52,"hi":0.56},
{"p":"Land Stage","s":"CoMOPPO (ours)","x":31,"y":0.555,"lo":0.54,"hi":0.57},
{"p":"Land Stage","s":"CoMOPPO (ours)","x":33,"y":0.57,"lo":0.555,"hi":0.585},
{"p":"Land Stage","s":"CoMOPPO (ours)","x":35,"y":0.578,"lo":0.565,"hi":0.59},
{"p":"Land Stage","s":"CoMOPPO (ours)","x":37,"y":0.585,"lo":0.573,"hi":0.597},
{"p":"Land Stage","s":"CoMOPPO (ours)","x":39,"y":0.593,"lo":0.582,"hi":0.604},
{"p":"Land Stage","s":"CoMOPPO (ours)","x":41,"y":0.598,"lo":0.588,"hi":0.608},
{"p":"Land Stage","s":"CoMOPPO (ours)","x":44,"y":0.603,"lo":0.593,"hi":0.613},
{"p":"Land Stage","s":"CoMOPPO (ours)","x":47,"y":0.61,"lo":0.60,"hi":0.62},
{"p":"Land Stage","s":"CoMOPPO (ours)","x":50,"y":0.613,"lo":0.603,"hi":0.623},
{"p":"Land Stage","s":"CoMOPPO (ours)","x":53,"y":0.617,"lo":0.607,"hi":0.627},
{"p":"Land Stage","s":"CoMOPPO (ours)","x":56,"y":0.619,"lo":0.609,"hi":0.629},
{"p":"Land Stage","s":"CoMOPPO (ours)","x":59,"y":0.622,"lo":0.612,"hi":0.632},
{"p":"Land Stage","s":"CoMOPPO (ours)","x":61,"y":0.627,"lo":0.617,"hi":0.637},
{"p":"Land Stage","s":"CoMOPPO (ours)","x":63,"y":0.62,"lo":0.61,"hi":0.63},
{"p":"Land Stage","s":"CoMOPPO (ours)","x":66,"y":0.621,"lo":0.611,"hi":0.631},
{"p":"Land Stage","s":"CoMOPPO (ours)","x":69,"y":0.624,"lo":0.614,"hi":0.634},
{"p":"Land Stage","s":"CoMOPPO (ours)","x":72,"y":0.625,"lo":0.615,"hi":0.635},
{"p":"Land Stage","s":"CoMOPPO (ours)","x":75,"y":0.627,"lo":0.617,"hi":0.637},
{"p":"Land Stage","s":"CoMOPPO (ours)","x":78,"y":0.626,"lo":0.616,"hi":0.636},
{"p":"Land Stage","s":"CoMOPPO (ours)","x":81,"y":0.631,"lo":0.621,"hi":0.641},
{"p":"Land Stage","s":"CoMOPPO (ours)","x":84,"y":0.628,"lo":0.618,"hi":0.638},
{"p":"Land Stage","s":"CoMOPPO (ours)","x":87,"y":0.632,"lo":0.622,"hi":0.642},
{"p":"Land Stage","s":"CoMOPPO (ours)","x":90,"y":0.63,"lo":0.62,"hi":0.64},
{"p":"Land Stage","s":"CoMOPPO (ours)","x":93,"y":0.634,"lo":0.624,"hi":0.644},
{"p":"Land Stage","s":"CoMOPPO (ours)","x":96,"y":0.632,"lo":0.622,"hi":0.642},
{"p":"Land Stage","s":"CoMOPPO (ours)","x":100,"y":0.633,"lo":0.623,"hi":0.643},
{"p":"Land Stage","s":"PPO","x":0,"y":0,"lo":0,"hi":0},
{"p":"Land Stage","s":"PPO","x":100,"y":0,"lo":0,"hi":0},
{"p":"Land Stage","s":"P3O","x":0,"y":0,"lo":0,"hi":0},
{"p":"Land Stage","s":"P3O","x":100,"y":0,"lo":0,"hi":0},
{"p":"Success Rate","s":"CoMOPPO (ours)","x":0,"y":0,"lo":0,"hi":0},
{"p":"Success Rate","s":"CoMOPPO (ours)","x":16,"y":0,"lo":0,"hi":0},
{"p":"Success Rate","s":"CoMOPPO (ours)","x":17,"y":0.02,"lo":-0.03,"hi":0.08},
{"p":"Success Rate","s":"CoMOPPO (ours)","x":18,"y":0.04,"lo":-0.05,"hi":0.2},
{"p":"Success Rate","s":"CoMOPPO (ours)","x":19,"y":0.12,"lo":-0.065,"hi":0.38},
{"p":"Success Rate","s":"CoMOPPO (ours)","x":20,"y":0.22,"lo":-0.04,"hi":0.52},
{"p":"Success Rate","s":"CoMOPPO (ours)","x":21,"y":0.28,"lo":0.0,"hi":0.6},
{"p":"Success Rate","s":"CoMOPPO (ours)","x":22,"y":0.34,"lo":0.06,"hi":0.68},
{"p":"Success Rate","s":"CoMOPPO (ours)","x":23,"y":0.40,"lo":0.14,"hi":0.76},
{"p":"Success Rate","s":"CoMOPPO (ours)","x":24,"y":0.46,"lo":0.2,"hi":0.84},
{"p":"Success Rate","s":"CoMOPPO (ours)","x":25,"y":0.52,"lo":0.26,"hi":0.9},
{"p":"Success Rate","s":"CoMOPPO (ours)","x":26,"y":0.56,"lo":0.31,"hi":0.94},
{"p":"Success Rate","s":"CoMOPPO (ours)","x":27,"y":0.61,"lo":0.35,"hi":0.97},
{"p":"Success Rate","s":"CoMOPPO (ours)","x":28,"y":0.65,"lo":0.38,"hi":0.99},
{"p":"Success Rate","s":"CoMOPPO (ours)","x":29,"y":0.69,"lo":0.41,"hi":1.01},
{"p":"Success Rate","s":"CoMOPPO (ours)","x":30,"y":0.715,"lo":0.44,"hi":1.025},
{"p":"Success Rate","s":"CoMOPPO (ours)","x":31.5,"y":0.74,"lo":0.47,"hi":1.035},
{"p":"Success Rate","s":"CoMOPPO (ours)","x":33,"y":0.76,"lo":0.50,"hi":1.04},
{"p":"Success Rate","s":"CoMOPPO (ours)","x":35,"y":0.785,"lo":0.53,"hi":1.045},
{"p":"Success Rate","s":"CoMOPPO (ours)","x":37,"y":0.80,"lo":0.56,"hi":1.05},
{"p":"Success Rate","s":"CoMOPPO (ours)","x":38.5,"y":0.815,"lo":0.60,"hi":1.055},
{"p":"Success Rate","s":"CoMOPPO (ours)","x":40,"y":0.82,"lo":0.57,"hi":1.06},
{"p":"Success Rate","s":"CoMOPPO (ours)","x":42,"y":0.84,"lo":0.62,"hi":1.06},
{"p":"Success Rate","s":"CoMOPPO (ours)","x":45,"y":0.85,"lo":0.63,"hi":1.06},
{"p":"Success Rate","s":"CoMOPPO (ours)","x":48,"y":0.865,"lo":0.645,"hi":1.06},
{"p":"Success Rate","s":"CoMOPPO (ours)","x":51,"y":0.875,"lo":0.665,"hi":1.06},
{"p":"Success Rate","s":"CoMOPPO (ours)","x":54,"y":0.878,"lo":0.675,"hi":1.06},
{"p":"Success Rate","s":"CoMOPPO (ours)","x":57,"y":0.885,"lo":0.69,"hi":1.06},
{"p":"Success Rate","s":"CoMOPPO (ours)","x":60,"y":0.89,"lo":0.71,"hi":1.06},
{"p":"Success Rate","s":"CoMOPPO (ours)","x":63,"y":0.895,"lo":0.72,"hi":1.06},
{"p":"Success Rate","s":"CoMOPPO (ours)","x":66,"y":0.90,"lo":0.735,"hi":1.058},
{"p":"Success Rate","s":"CoMOPPO (ours)","x":69,"y":0.905,"lo":0.745,"hi":1.058},
{"p":"Success Rate","s":"CoMOPPO (ours)","x":72,"y":0.905,"lo":0.755,"hi":1.058},
{"p":"Success Rate","s":"CoMOPPO (ours)","x":75,"y":0.91,"lo":0.77,"hi":1.055},
{"p":"Success Rate","s":"CoMOPPO (ours)","x":78,"y":0.915,"lo":0.775,"hi":1.055},
{"p":"Success Rate","s":"CoMOPPO (ours)","x":81,"y":0.915,"lo":0.785,"hi":1.055},
{"p":"Success Rate","s":"CoMOPPO (ours)","x":84,"y":0.92,"lo":0.785,"hi":1.055},
{"p":"Success Rate","s":"CoMOPPO (ours)","x":87,"y":0.925,"lo":0.78,"hi":1.055},
{"p":"Success Rate","s":"CoMOPPO (ours)","x":90,"y":0.925,"lo":0.79,"hi":1.055},
{"p":"Success Rate","s":"CoMOPPO (ours)","x":93,"y":0.922,"lo":0.79,"hi":1.05},
{"p":"Success Rate","s":"CoMOPPO (ours)","x":96,"y":0.925,"lo":0.785,"hi":1.05},
{"p":"Success Rate","s":"CoMOPPO (ours)","x":99,"y":0.92,"lo":0.785,"hi":1.05},
{"p":"Success Rate","s":"CoMOPPO (ours)","x":99.6,"y":0.91,"lo":0.78,"hi":1.05},
{"p":"Success Rate","s":"CoMOPPO (ours)","x":100,"y":0.96,"lo":0.78,"hi":1.05},
{"p":"Success Rate","s":"PPO","x":0,"y":0,"lo":0,"hi":0},
{"p":"Success Rate","s":"PPO","x":100,"y":0,"lo":0,"hi":0},
{"p":"Success Rate","s":"P3O","x":0,"y":0,"lo":0,"hi":0},
{"p":"Success Rate","s":"P3O","x":100,"y":0,"lo":0,"hi":0}
]},
"data": {"name": "d"},
"facet": {"column": {"field": "p", "type": "nominal",
  "sort": ["Stand Stage","Sit Stage","Jump Stage","Air Stage","Land Stage","Success Rate"],
  "header": {"title": null, "labelFontSize": 21.5, "labelFontWeight": "normal", "labelColor": "black", "labelPadding": 3.5, "labelFont": "DejaVu Sans"}}},
"spacing": 54,
"bounds": "flush",
"resolve": {"axis": {"x": "independent", "y": "independent"}},
"spec": {
  "width": 265, "height": 231,
  "layer": [
    {"transform": [{"filter": "datum.s == 'CoMOPPO (ours)'"}],
     "mark": {"type": "area", "opacity": 0.2, "clip": true},
     "encoding": {
       "x": {"field": "x", "type": "quantitative", "scale": {"domain": [0, 100], "nice": false},
             "axis": {"title": "Env Steps", "values": [0,20,40,60,80,100], "labelExpr": "format(datum.value/100, '.1f')", "labelPadding": 9.5, "titlePadding": 5.5}},
       "y": {"field": "lo", "type": "quantitative", "scale": {"domain": [-0.1, 1.1], "nice": false, "zero": false},
             "axis": {"title": null, "values": [0,0.2,0.4,0.6,0.8,1.0], "format": ".1f"}},
       "y2": {"field": "hi"},
       "color": {"field": "s", "type": "nominal", "scale": {"domain": ["CoMOPPO (ours)","PPO","P3O"], "range": ["#1f77b4","#ff7f0e","#2ca02c"]}, "legend": {"title": null}}
     }},
    {"transform": [{"filter": "datum.s == 'CoMOPPO (ours)'"}],
     "mark": {"type": "line", "strokeWidth": 1.75, "clip": true},
     "encoding": {"x": {"field": "x", "type": "quantitative"}, "y": {"field": "y", "type": "quantitative"}, "color": {"field": "s", "type": "nominal", "legend": {"title": null}}}},
    {"transform": [{"filter": "datum.s == 'PPO'"}],
     "mark": {"type": "area", "opacity": 0.2, "clip": true},
     "encoding": {"x": {"field": "x", "type": "quantitative"}, "y": {"field": "lo", "type": "quantitative"}, "y2": {"field": "hi"}, "color": {"field": "s", "type": "nominal", "legend": {"title": null}}}},
    {"transform": [{"filter": "datum.s == 'PPO'"}],
     "mark": {"type": "line", "strokeWidth": 1.75, "clip": true},
     "encoding": {"x": {"field": "x", "type": "quantitative"}, "y": {"field": "y", "type": "quantitative"}, "color": {"field": "s", "type": "nominal", "legend": {"title": null}}}},
    {"transform": [{"filter": "datum.s == 'P3O'"}],
     "mark": {"type": "area", "opacity": 0.2, "clip": true},
     "encoding": {"x": {"field": "x", "type": "quantitative"}, "y": {"field": "lo", "type": "quantitative"}, "y2": {"field": "hi"}, "color": {"field": "s", "type": "nominal", "legend": {"title": null}}}},
    {"transform": [{"filter": "datum.s == 'P3O'"}],
     "mark": {"type": "line", "strokeWidth": 1.75, "clip": true},
     "encoding": {"x": {"field": "x", "type": "quantitative"}, "y": {"field": "y", "type": "quantitative"}, "color": {"field": "s", "type": "nominal", "legend": {"title": null}}}},
    {"transform": [{"filter": "datum.s == 'PPO' && datum.x == 100"}],
     "mark": {"type": "text", "align": "right", "baseline": "alphabetic", "fontSize": 11.5, "dy": 38, "color": "black"},
     "encoding": {"x": {"datum": 100}, "y": {"datum": -0.1}, "text": {"value": "1e8"}}}
  ]
},
"config": {
  "font": "DejaVu Sans",
  "view": {"stroke": "black", "strokeWidth": 1},
  "header": {"labelFontWeight": "normal"},
  "axis": {"domain": false, "grid": true, "gridColor": "#b0b0b0", "gridWidth": 0.8, "tickColor": "black", "tickSize": 3.5, "tickWidth": 0.8,
           "labelFontSize": 11.5, "labelColor": "black", "labelPadding": 3.5, "labelFont": "DejaVu Sans",
           "titleFontSize": 16, "titleColor": "black", "titleFontWeight": "normal", "titleFont": "DejaVu Sans"},
  "legend": {"orient": "none", "legendX": 60, "legendY": 7, "fillColor": "white", "strokeColor": "#cccccc", "cornerRadius": 3, "padding": 7,
             "symbolType": "M-2,0H2", "symbolSize": 306, "symbolOffset": 7, "symbolStrokeWidth": 2, "symbolOpacity": 1, "labelFontSize": 16, "labelColor": "black", "labelOffset": 29.5, "rowPadding": 9, "labelFont": "DejaVu Sans"}
}
}
